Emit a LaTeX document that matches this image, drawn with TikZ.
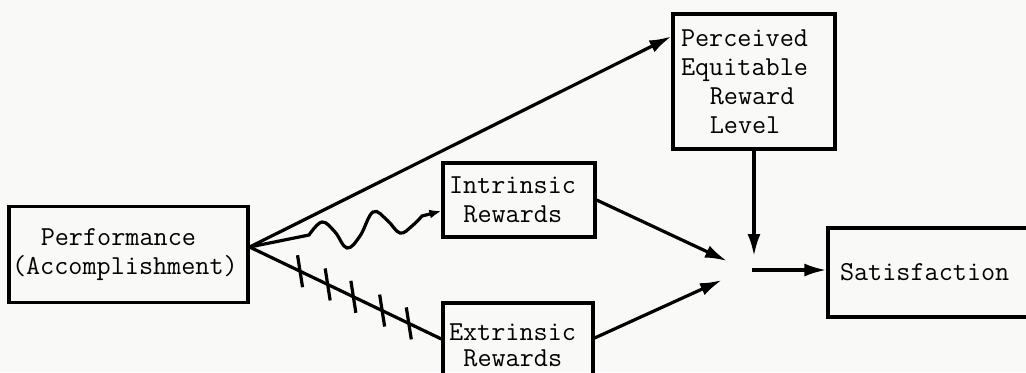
\documentclass[tikz,border=0pt]{standalone}
\usetikzlibrary{arrows.meta,calc}
\definecolor{paper}{RGB}{249,249,247}
\begin{document}
\begin{tikzpicture}[x=0.5pt,y=-0.5pt,
  box/.style={draw, line width=1.6pt, align=left, inner ysep=0pt,
    font=\fontsize{13.7}{14.4}\selectfont\ttfamily},
  conn/.style={line width=1.6pt, -{Latex[length=11pt,width=6.5pt]}},
  wavy/.style={line width=1.6pt, -{Latex[length=6pt,width=4.5pt]}},
  plainline/.style={line width=1.6pt}]
\fill[paper] (0,0) rectangle (1026,372);
\useasboundingbox (0,0) rectangle (1026,372);

\node[box, minimum width=119.5pt, minimum height=48pt, inner xsep=1.5pt, text width=116.5pt]
  (perf) at (128.5,254.5) {\hspace*{1.05em}Performance\\(Accomplishment)};
\node[box, minimum width=76pt, minimum height=37pt, inner xsep=3pt, text width=70pt]
  (intr) at (519,200) {Intrinsic\\\hspace*{0.525em}Rewards};
\node[box, minimum width=75pt, minimum height=42pt, inner xsep=3pt, text width=69pt,
  font=\fontsize{13.7}{13}\selectfont\ttfamily]
  (extr) at (518,345) {Extrinsic\\\hspace*{0.525em}Rewards};
\node[box, minimum width=81pt, minimum height=67.5pt, inner xsep=4pt, text width=73pt]
  (perc) at (754,81.5) {Perceived\\Equitable\\\hspace*{1.05em}Reward\\\hspace*{1.05em}Level};
\node[box, minimum width=106pt, minimum height=44.5pt, inner xsep=6pt, text width=94pt]
  (sat) at (934,272.5) {Satisfaction};

\coordinate (src) at ($(perf.east)+(0,-7.5)$);
\coordinate (ptip) at ($(perc.north west)+(0,24)$);
\coordinate (itip) at ($(intr.west)+(0,11)$);
\coordinate (hend) at ($(extr.west)+(0,-6)$);
\coordinate (estart) at ($(extr.east)+(0,-7)$);
\coordinate (jI) at (727,261);
\coordinate (jE) at (722,280);
\coordinate (jP) at (753,256);
\coordinate (jS) at (752,270);

% to perceived equitable reward level
\draw[conn] (src) -- (ptip);
% wavy to intrinsic rewards
\draw[wavy] (src) -- plot[smooth, tension=0.65] coordinates {(309,235) (322,222) (335,232) (347,248) (360,236) (373,212) (387,220) (400,233) (412,226) (422,216)} -- (itip);
% hatched line to extrinsic rewards
\draw[plainline] (src) -- (hend);
\foreach \t in {0.263,0.407,0.541,0.691,0.830}
  \draw[plainline] ($(src)!\t!(hend)$) ++(-2.5,-16) -- ++(5,32);
% into the junction
\draw[conn] (intr.east) -- (jI);
\draw[conn] (estart) -- (jE);
\draw[conn] (perc.south) -- (perc.south |- jP);
\draw[conn] (jS) -- (jS -| sat.west);
\end{tikzpicture}
\end{document}
